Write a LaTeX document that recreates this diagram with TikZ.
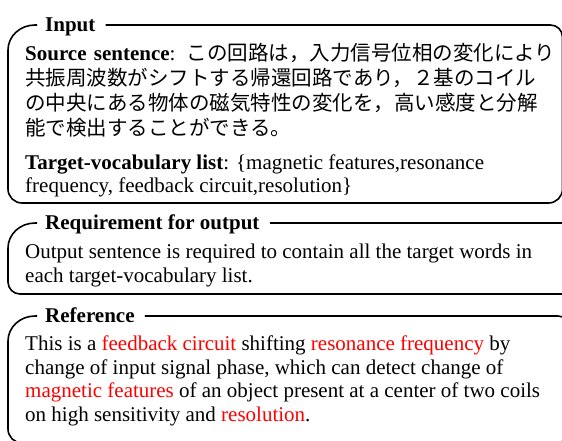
\documentclass[tikz,border=0pt]{standalone}
\usepackage{fontspec}
\setmainfont{Liberation Serif}
\newfontfamily\jpfont{Noto Sans CJK JP}
\XeTeXlinebreaklocale "ja"
\XeTeXlinebreakskip=0pt plus 4pt minus 1pt
\tikzset{
  frame/.style={line width=1.6pt, line join=round},
  ttl/.style={anchor=base west, inner sep=0pt, font=\bfseries\fontsize{21}{22}\selectfont},
  txt/.style={anchor=base west, inner sep=0pt, font=\fontsize{21}{22}\selectfont},
}
\newcommand{\hl}[1]{\textcolor{red}{#1}}
\newcommand{\jl}[1]{\hbox to 530pt{#1}}
\newcommand{\jp}{\jpfont\fontsize{20.5}{22}\selectfont}
\begin{document}
\begin{tikzpicture}[x=1pt,y=-1pt]
\useasboundingbox (0,0) rectangle (562,440);
\clip (0,0) rectangle (562,440);
% ---- Box 1: Input
\node[ttl] (t1) at (45,31.5) {Input};
\draw[frame] (37,25) -- (35,25) .. controls (20.1,25) and (8,36.2) .. (8,50)
  -- (8,189) .. controls (8,196.7) and (14.3,203) .. (22,203)
  -- (548.5,203) .. controls (556.2,203) and (562.5,196.7) .. (562.5,189)
  -- (562.5,37) .. controls (562.5,30.4) and (557.1,25) .. (550.5,25)
  -- ([xshift=10pt]t1.east |- 0,25);
\node[txt] (s1) at (25,60) {\jl{\textbf{Source sentence}: {\jp この回路は，入力信号位相の変化により}}};
\node[txt] (s2) at (25,85) {\jl{\jp 共振周波数がシフトする帰還回路であり，２基のコイル}};
\node[txt] (s3) at (25,110) {\jl{\jp の中央にある物体の磁気特性の変化を，高い感度と分解}};
\node[txt] (s4) at (25,135) {\jp 能で検出することができる。};
\node[txt] (v1) at (25,169.5) {\textbf{Target-vocabulary list}: \{magnetic features,resonance};
\node[txt] (v2) at (25,192.5) {frequency, feedback circuit,resolution\}};
% ---- Box 2: Requirement
\node[ttl] (t2) at (45,229.5) {Requirement for output};
\draw[frame] (37,223) -- (35,223) .. controls (20.1,223) and (8,234.2) .. (8,248)
  -- (8,282) .. controls (8,288.6) and (13.4,294) .. (20,294)
  -- (590,294);
\draw[frame] ([xshift=10pt]t2.east |- 0,223) -- (590,223);
\node[txt] (r1) at (25,258.5) {Output sentence is required to contain all the target words in};
\node[txt] (r2) at (25,282) {each target-vocabulary list.};
% ---- Box 3: Reference
\node[ttl] (t3) at (45,322.5) {Reference};
\draw[frame] (37,316) -- (35,316) .. controls (20.1,316) and (8,327.2) .. (8,341)
  -- (8,429) .. controls (8,436.7) and (14.3,443) .. (22,443)
  -- (556,443) .. controls (563.7,443) and (570,436.7) .. (570,429)
  -- (570,328) .. controls (570,321.4) and (564.6,316) .. (558,316)
  -- ([xshift=10pt]t3.east |- 0,316);
\node[txt] (f1) at (25,350.5) {This is a \hl{feedback circuit} shifting \hl{resonance frequency} by};
\node[txt] (f2) at (25,374) {change of input signal phase, which can detect change of};
\node[txt] (f3) at (25,397.5) {\hl{magnetic features} of an object present at a center of two coils};
\node[txt] (f4) at (25,421) {on high sensitivity and \hl{resolution}.};
\end{tikzpicture}
\end{document}
